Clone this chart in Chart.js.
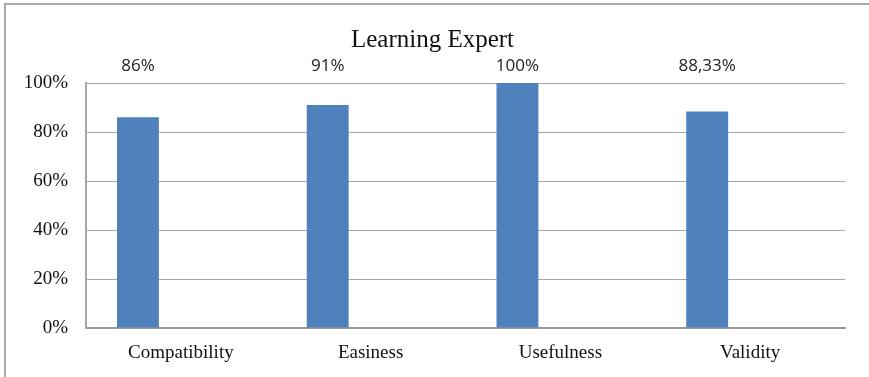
<!DOCTYPE html>
<html>
<head>
<meta charset="utf-8">
<script src="https://cdn.jsdelivr.net/npm/chart.js@4/dist/chart.umd.min.js"></script>
<style>
html,body{margin:0;padding:0;background:#fff;}
#wrap{width:869px;height:377px;position:relative;}
</style>
</head>
<body>
<div id="wrap"><canvas id="c" width="869" height="377"></canvas></div>
<script>
const categories = ['Compatibility', 'Easiness', 'Usefulness', 'Validity'];
const values = [86, 91, 100, 88.33];
const yTicks = [0, 20, 40, 60, 80, 100];
const chartTitle = 'Learning Expert';

const frame = {
  id: 'frame',
  beforeDraw(chart) {
    const ctx = chart.ctx;
    ctx.save();
    ctx.fillStyle = '#fff';
    ctx.fillRect(0, 0, chart.width, chart.height);
    ctx.strokeStyle = '#ababab';
    ctx.lineWidth = 2;
    ctx.beginPath();
    ctx.moveTo(5, chart.height);
    ctx.lineTo(5, 4);
    ctx.lineTo(chart.width, 4);
    ctx.stroke();
    ctx.restore();
  }
};

const valueLabels = {
  id: 'valueLabels',
  afterDatasetsDraw(chart) {
    const ctx = chart.ctx;
    const meta = chart.getDatasetMeta(0);
    const top = chart.chartArea.top;
    ctx.save();
    ctx.font = '17px "Open Sans", "Liberation Sans", Arial, sans-serif';
    ctx.fillStyle = '#222';
    ctx.textAlign = 'center';
    ctx.textBaseline = 'middle';
    meta.data.forEach((bar, i) => {
      const v = values[i];
      const txt = String(v).replace('.', ',') + '%';
      ctx.fillText(txt, bar.x, top - 17);
    });
    ctx.restore();
  }
};

new Chart(document.getElementById('c'), {
  type: 'bar',
  data: {
    labels: categories,
    datasets: [
      { data: values, backgroundColor: '#4F81BD', borderWidth: 0 },
      { data: categories.map(() => null), backgroundColor: '#C0504D', borderWidth: 0 }
    ]
  },
  options: {
    responsive: false,
    animation: false,
    events: [],
    categoryPercentage: 0.905,
    barPercentage: 0.488,
    layout: { padding: { left: 20, right: 24, top: 0, bottom: 0 } },
    plugins: {
      legend: { display: false },
      tooltip: { enabled: false },
      title: {
        display: true,
        text: chartTitle,
        color: '#111',
        font: { family: '"Liberation Serif", "Times New Roman", serif', size: 25, weight: 'normal', lineHeight: 1.2 },
        padding: { top: 25, bottom: 28 }
      }
    },
    scales: {
      x: {
        grid: { display: false, drawTicks: false },
        border: { display: true, color: '#999', width: 2 },
        ticks: {
          color: '#111',
          padding: 14,
          maxRotation: 0,
          font: { family: '"Liberation Serif", "Times New Roman", serif', size: 19 }
        },
        afterFit(scale) { scale.height = 49; }
      },
      y: {
        min: 0,
        max: 100,
        afterBuildTicks(scale) { scale.ticks = yTicks.map(v => ({ value: v })); },
        grid: { color: '#a6a6a6', lineWidth: 1, drawTicks: false },
        border: { display: true, color: '#a6a6a6', width: 2 },
        ticks: {
          color: '#111',
          padding: 18,
          font: { family: '"Liberation Serif", "Times New Roman", serif', size: 19 },
          callback: v => v + '%'
        },
        afterFit(scale) { scale.width = 66; }
      }
    }
  },
  plugins: [frame, valueLabels]
});
</script>
</body>
</html>
